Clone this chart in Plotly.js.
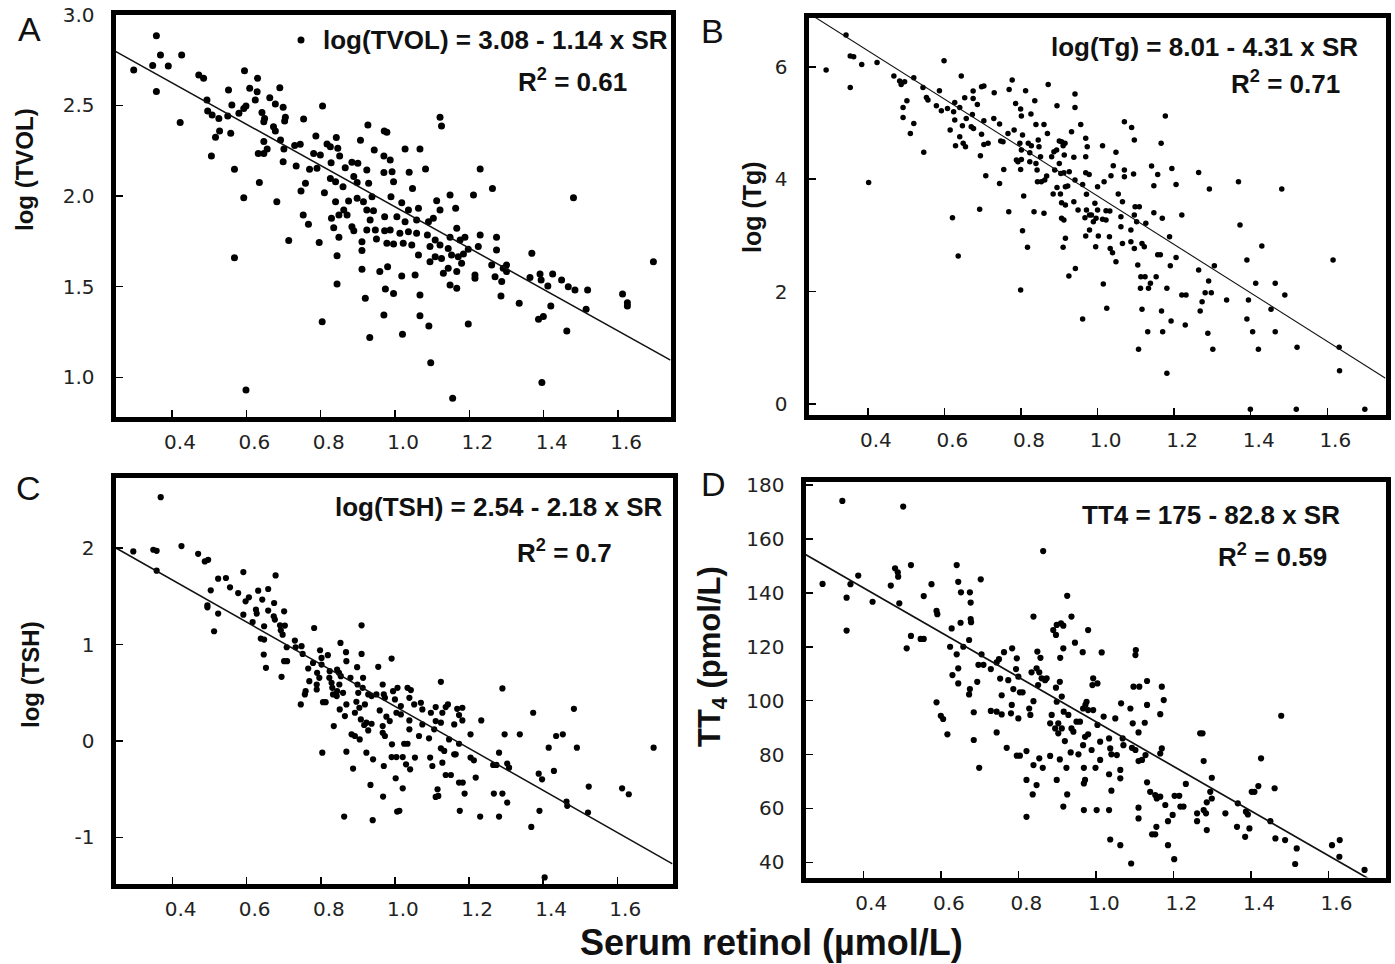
<!DOCTYPE html>
<html>
<head>
<meta charset="utf-8">
<script src="https://cdn.plot.ly/plotly-3.0.1.min.js"></script>
<style>html,body{margin:0;padding:0;background:#fff;}#chart{width:1395px;height:964px;}</style>
</head>
<body>
<div id="chart"></div>
<script>
// ---------- Data ----------
const srA = [0.358,0.297,0.348,0.369,0.39,0.426,0.358,0.422,0.472,0.485,
0.494,0.496,0.508,0.526,0.517,0.528,0.506,0.552,0.561,0.55,
0.558,0.568,0.595,0.58,0.593,0.599,0.609,0.629,0.63,0.624,
0.593,0.635,0.568,0.599,0.663,0.678,0.69,0.699,0.705,0.703,
0.642,0.649,0.647,0.673,0.678,0.647,0.632,0.647,0.656,0.692,
0.701,0.699,0.682,0.714,0.73,0.745,0.734,0.754,0.747,0.759,
0.753,0.767,0.787,0.781,0.77,0.79,0.799,0.805,0.81,0.796,
0.804,0.817,0.826,0.842,0.846,0.851,0.826,0.828,0.84,0.84,
0.829,0.835,0.849,0.849,0.844,0.844,0.862,0.86,0.866,0.871,
0.875,0.884,0.889,0.898,0.898,0.907,0.9,0.884,0.889,0.911,
0.911,0.911,0.92,0.932,0.927,0.924,0.929,0.938,0.924,0.915,
0.933,0.924,0.942,0.944,0.947,0.95,0.959,0.971,0.978,0.97,
0.97,0.972,0.972,0.98,0.974,0.97,0.978,0.987,0.992,0.996,
0.989,0.987,0.996,0.996,1.005,
1.121,1.125,1.027,1.067,1.038,1.082,1.229,1.262,1.211,1.148,
1.48,1.695,1.047,1.018,1.036,1.063,1.112,1.121,1.163,1.027,
1.058,1.09,1.103,1.013,1.036,1.058,1.087,1.108,1.121,
1.166,1.148,1.175,1.188,1.229,1.022,1.045,1.063,1.094,
1.094,1.108,1.125,1.143,1.152,1.17,1.179,1.197,1.184,1.166,
1.143,1.13,1.148,1.166,1.215,1.215,1.224,1.273,1.273,1.26,
1.269,1.287,1.291,1.3,1.3,1.285,1.054,1.018,1.067,
1.067,1.091,1.02,1.197,1.096,1.155,1.334,1.368,1.363,1.39,
1.393,1.411,1.424,1.448,1.466,1.484,1.518,1.419,1.386,1.399,
1.462,1.514,1.395,1.612,1.625,1.625];
const tvolA = [2.884,2.695,2.72,2.778,2.717,2.778,2.577,2.406,2.667,2.649,
2.529,2.469,2.447,2.428,2.324,2.358,2.221,2.585,2.502,2.441,
2.346,2.147,2.691,2.456,2.483,2.496,2.594,2.575,2.649,2.529,
1.991,2.075,1.66,0.93,2.542,2.507,2.597,2.489,2.434,2.414,
2.46,2.428,2.41,2.382,2.358,2.3,2.235,2.235,2.259,2.309,
2.259,2.189,1.969,1.754,2.278,2.285,2.165,2.425,2.028,2.07,
1.895,1.844,2.331,2.235,2.147,2.153,2.226,2.496,2.018,1.744,
1.307,2.287,2.272,2.322,2.263,2.221,2.097,2.184,2.079,1.969,
1.877,1.825,1.895,1.772,1.671,1.515,1.923,2.051,2.156,1.895,
1.972,2.186,2.107,2.074,1.987,2.307,2.18,1.831,1.809,1.748,
1.699,1.596,1.436,1.219,2.391,2.143,2.07,1.996,1.923,1.969,
1.868,1.813,1.919,2.254,1.813,1.763,1.583,2.358,2.351,2.221,
2.129,1.886,1.809,1.61,1.487,1.344,1.739,2.199,2.134,2.079,
1.996,1.813,1.463,1.735,1.886,
2.434,2.386,2.259,2.259,2.131,2.149,2.149,2.042,2.006,2.006,
1.991,1.638,2.042,1.963,1.923,1.932,1.974,1.923,1.932,1.858,
1.868,1.858,1.877,1.794,1.803,1.794,1.785,1.757,1.73,
1.822,1.772,1.757,1.772,1.785,1.739,1.73,1.675,1.721,
1.638,1.665,1.656,1.711,1.675,1.665,1.629,1.706,1.68,1.583,
1.601,1.574,1.509,1.491,1.564,1.546,1.721,1.772,1.702,1.619,
1.555,1.528,1.601,1.619,1.583,1.449,1.564,1.559,1.454,
1.34,1.283,1.237,1.294,1.081,0.884,1.408,1.684,1.551,1.57,
1.537,1.504,1.57,1.537,1.5,1.482,1.482,1.393,1.32,1.335,
1.256,1.375,0.971,1.46,1.412,1.393];

const srB = [0.343,0.291,0.354,0.363,0.384,0.354,0.424,0.402,0.468,0.483,
0.487,0.496,0.52,0.502,0.492,0.492,0.52,0.511,0.546,0.544,
0.553,0.557,0.587,0.579,0.592,0.599,0.608,0.615,0.624,0.627,
0.644,0.64,0.653,0.627,0.647,0.657,0.64,0.629,0.649,0.655,
0.621,0.636,0.675,0.675,0.686,0.673,0.67,0.676,0.697,0.703,
0.703,0.697,0.703,0.714,0.694,0.708,0.692,0.73,0.729,0.744,
0.747,0.753,0.755,0.744,0.768,0.769,0.777,0.766,0.782,0.786,
0.799,0.801,0.804,0.797,0.801,0.788,0.792,0.801,0.799,0.807,
0.804,0.817,0.799,0.812,0.826,0.819,0.823,0.827,0.823,0.836,
0.834,0.839,0.845,0.847,0.839,0.842,0.851,0.843,0.853,0.862,
0.867,0.86,0.86,0.869,0.871,0.88,0.886,0.893,0.894,0.888,
0.9,0.9,0.906,0.91,0.915,0.913,0.904,0.912,0.894,0.884,
0.903,0.916,0.922,0.906,0.916,0.906,0.912,0.916,0.91,0.925,
0.942,0.941,0.941,0.932,0.926,0.938,0.941,0.938,0.949,0.956,
0.961,0.961,0.969,0.973,0.969,0.969,0.971,0.978,0.967,0.971,
0.979,0.984,0.989,0.969,0.979,0.993,0.995,1.0,1.0,0.996,
1.002,
1.177,1.07,1.089,1.096,1.166,1.013,1.048,1.041,1.035,1.07,
1.07,1.094,1.141,1.157,1.147,1.194,1.205,1.264,1.292,1.368,
1.481,1.017,1.054,1.065,1.022,1.032,1.013,1.022,1.061,
1.098,1.109,1.096,1.102,1.126,1.147,1.169,1.22,1.061,1.087,
1.031,1.065,1.033,1.039,1.048,1.096,1.087,1.116,
1.122,1.157,1.164,1.188,1.205,1.19,1.105,1.113,1.124,1.153,
1.112,1.133,1.138,1.181,1.015,1.024,1.116,1.167,1.131,1.17,
1.107,1.181,1.192,1.229,1.22,1.231,1.268,1.273,1.281,1.297,
1.29,1.305,1.264,1.288,1.301,1.337,1.372,1.39,1.429,1.413,
1.464,1.489,1.394,1.453,1.39,1.405,1.464,1.42,1.521,1.615,
1.631,1.632,1.399,1.519,1.698];
const tgB = [6.563,5.941,6.19,6.178,6.041,5.632,6.077,3.943,5.834,5.745,
5.686,5.733,5.804,5.395,5.277,5.099,4.992,4.814,4.477,5.632,
5.455,5.407,5.573,5.306,5.218,6.107,5.259,4.874,5.2,5.366,
5.834,5.277,5.449,5.052,4.951,5.081,4.755,4.595,4.637,4.577,
3.315,2.633,5.567,5.437,5.33,5.152,4.933,4.903,5.644,5.656,
5.04,4.797,4.619,4.637,4.417,4.062,3.463,5.538,5.081,4.98,
4.678,4.666,4.174,3.925,3.421,5.597,5.763,4.814,4.874,5.348,
5.247,5.123,4.785,4.637,4.518,4.34,4.311,4.352,4.174,3.7,
3.084,2.787,2.028,5.573,5.158,4.637,4.47,4.595,4.311,5.395,
3.421,4.974,4.696,4.577,4.281,4.162,4.4,3.955,3.955,3.985,
4.056,3.392,4.974,4.814,5.686,4.4,4.489,4.518,5.306,4.162,
4.678,4.281,4.666,4.595,4.637,4.429,4.103,4.115,3.854,3.736,
3.736,3.866,3.878,3.582,3.54,3.303,3.273,2.947,2.787,2.277,
2.413,5.514,5.277,4.844,4.133,4.388,3.985,3.599,3.451,4.974,
3.907,1.513,4.726,4.577,4.4,4.115,3.73,4.085,3.315,3.451,
3.362,3.362,3.244,2.989,3.095,3.57,2.799,3.866,3.451,3.303,
2.989,
5.123,5.022,4.921,4.696,4.637,4.595,4.477,4.239,4.062,4.162,
4.044,4.091,4.234,4.085,3.884,4.192,3.907,4.121,3.825,3.955,
3.825,3.955,3.736,3.599,3.439,3.433,3.285,3.273,3.332,
3.51,3.51,3.362,3.244,3.214,3.404,3.303,3.362,3.155,3.095,
2.977,2.858,2.769,2.692,2.532,2.769,2.888,2.858,
2.799,2.657,2.657,2.977,2.609,2.461,2.473,2.265,2.265,2.265,
2.058,2.058,2.147,2.058,2.135,1.702,1.685,1.655,1.287,1.287,
0.973,0.547,1.477,1.406,1.939,1.939,1.655,1.821,1.981,1.981,
2.188,2.461,2.384,1.258,0.973,1.851,3.184,2.562,2.811,2.147,
2.147,1.939,1.851,1.685,1.513,1.287,1.287,0.973,1.009,2.562,
1.009,0.594,-0.094,-0.094,-0.094];

const srC = [0.368,0.294,0.348,0.357,0.357,0.424,0.469,0.487,0.496,0.523,
0.544,0.555,0.503,0.494,0.494,0.523,0.512,0.577,0.591,0.597,
0.606,0.591,0.625,0.627,0.631,0.616,0.658,0.642,0.658,0.678,
0.674,0.673,0.676,0.647,0.638,0.647,0.646,0.652,0.69,0.701,
0.692,0.697,0.703,0.701,0.709,0.694,0.708,0.73,0.732,0.748,
0.751,0.746,0.757,0.759,0.766,0.769,0.782,0.779,0.798,0.802,
0.79,0.802,0.796,0.789,0.789,0.806,0.813,0.804,0.819,0.824,
0.823,0.829,0.831,0.833,0.835,0.844,0.849,0.85,0.844,0.843,
0.853,0.854,0.86,0.851,0.869,0.865,0.868,0.869,0.88,0.869,
0.863,0.887,0.883,0.892,0.905,0.899,0.901,0.896,0.892,0.904,
0.91,0.91,0.898,0.914,0.913,0.919,0.908,0.917,0.923,0.928,
0.937,0.923,0.941,0.934,0.94,0.928,0.937,0.95,0.955,0.959,
0.967,0.97,0.973,0.977,0.967,0.967,0.973,0.991,0.995,1.0,
0.986,0.992,0.991,1.004,0.97,1.002,0.968,1.006,1.004,
1.124,1.007,1.016,1.034,1.043,1.039,1.052,1.07,1.074,1.097,
1.11,1.137,1.128,1.11,1.124,1.143,1.168,1.182,1.173,1.182,
1.16,1.016,1.039,1.074,1.106,1.039,1.065,1.025,1.034,1.092,
1.146,1.173,1.124,1.133,1.16,1.164,1.204,1.233,1.29,1.296,
1.337,1.373,1.483,1.453,1.435,1.415,1.491,1.698,1.281,1.204,
1.213,1.021,1.03,1.041,1.054,1.095,1.101,1.128,1.137,1.151,
1.265,1.274,1.303,1.308,1.388,1.397,1.429,1.021,1.115,1.11,
1.117,1.173,1.183,1.188,1.218,1.267,1.29,1.303,1.523,1.613,
1.631,1.463,1.465,1.521,1.012,1.175,1.23,1.281,1.39,1.368,
1.404];
const tshC = [2.528,1.966,1.983,1.972,1.766,2.021,1.941,1.862,1.879,1.683,
1.69,1.593,1.562,1.407,1.386,1.321,1.138,1.534,1.752,1.448,
1.49,1.31,1.362,1.321,1.559,1.234,1.576,1.466,1.352,1.717,
1.431,1.293,1.259,1.19,1.062,1.052,0.897,0.759,1.2,1.345,
1.148,1.103,1.197,0.828,0.828,0.666,0.972,1.041,0.972,0.983,
0.903,0.379,0.483,0.517,0.752,0.621,1.172,0.81,0.941,0.862,
0.707,0.793,0.655,0.586,0.534,0.403,0.403,-0.121,0.89,0.724,
0.655,0.603,0.552,0.483,0.155,0.741,0.707,0.586,0.517,0.466,
1.017,0.672,0.5,0.328,0.379,0.259,0.921,0.828,0.655,-0.11,
-0.783,-0.286,0.069,0.052,0.017,0.586,0.5,0.407,0.293,0.345,
0.903,1.2,0.766,0.655,0.552,0.379,0.224,0.166,0.19,0.11,
0.179,-0.121,-0.19,-0.455,-0.821,0.483,0.466,0.483,0.769,0.317,
0.586,0.483,0.448,0.252,0.155,0.086,0.052,0.855,0.517,0.431,
0.207,-0.034,-0.166,-0.166,-0.259,-0.386,-0.576,-0.731,0.293,
0.614,0.552,0.362,0.552,0.528,0.448,0.379,0.397,0.328,0.293,
0.352,0.352,0.293,0.207,0.19,0.379,0.334,0.345,0.269,0.214,
0.172,0.276,0.214,0.172,0.121,0.121,0.052,-0.028,-0.028,0.028,
0.017,-0.028,-0.076,-0.103,-0.138,-0.138,0.069,0.214,0.545,0.069,
0.069,0.293,0.334,0.069,0.052,-0.069,-0.069,-0.069,-0.121,-0.172,
-0.2,-0.166,-0.241,-0.293,-0.172,-0.172,-0.259,-0.224,-0.352,-0.352,
-0.248,-0.248,-0.234,-0.276,-0.338,-0.397,-0.31,-0.49,-0.5,-0.579,
-0.569,-0.431,-0.431,-0.545,-0.379,-0.545,-0.545,-0.638,-0.472,-0.49,
-0.552,-0.628,-0.672,-0.741,-0.724,-0.724,-0.783,-0.783,-0.724,-0.89,
-1.414];

const srD = [0.346,0.503,0.295,0.357,0.367,0.387,0.357,0.424,0.471,0.482,
0.489,0.49,0.493,0.523,0.523,0.512,0.548,0.556,0.556,0.576,
0.589,0.591,0.589,0.6,0.606,0.617,0.628,0.624,0.641,0.645,
0.652,0.675,0.677,0.651,0.677,0.678,0.673,0.658,0.641,0.645,
0.63,0.645,0.675,0.673,0.694,0.685,0.685,0.699,0.703,0.705,
0.697,0.71,0.729,0.744,0.75,0.729,0.744,0.757,0.744,0.757,
0.753,0.763,0.774,0.784,0.796,0.794,0.8,0.787,0.804,0.811,
0.783,0.781,0.8,0.77,0.796,0.804,0.821,0.839,0.834,0.849,
0.847,0.854,0.857,0.86,0.851,0.869,0.873,0.839,0.828,0.831,
0.864,0.839,0.854,0.863,0.882,0.821,0.847,0.837,0.821,0.89,
0.899,0.91,0.916,0.897,0.926,0.937,0.916,0.908,0.946,0.907,
0.897,0.912,0.899,0.886,0.882,0.895,0.903,0.912,0.903,0.917,
0.929,0.937,0.942,0.92,0.907,0.924,0.899,0.926,0.916,0.935,
0.95,0.959,0.966,0.973,0.967,0.976,0.98,0.972,0.98,0.967,
0.955,0.969,0.972,0.969,0.969,0.98,0.993,0.991,0.989,0.999,
1.002,0.993,1.004,1.004,
1.015,1.103,1.102,1.097,1.112,1.132,1.17,1.175,1.065,
1.089,1.132,1.166,1.02,1.05,1.095,1.126,1.11,1.034,
1.069,1.071,1.093,1.102,1.128,1.119,1.11,1.166,1.17,1.037,
1.011,1.04,1.054,1.011,1.034,1.063,1.063,1.04,1.132,1.14,
1.153,1.166,1.157,1.179,1.203,1.215,1.232,1.218,1.226,1.198,
1.186,1.11,1.11,1.156,1.145,1.153,1.034,1.037,1.063,
1.091,1.186,1.202,1.269,1.275,1.278,1.299,1.295,1.299,1.286,
1.278,1.284,1.261,1.261,1.286,1.334,1.366,1.387,1.392,1.364,
1.396,1.385,1.402,1.409,1.419,1.426,1.461,1.478,1.45,1.463,
1.488,1.518,1.514,1.609,1.629,1.628,1.693];
const tt4D = [174.1,172.0,143.3,138.2,143.2,146.4,126.0,136.7,142.7,149.1,
147.6,146.0,136.1,150.3,124.0,119.4,122.9,122.9,138.8,143.2,
133.3,132.1,99.4,94.4,93.2,87.5,126.8,120.0,150.3,144.1,
140.2,140.2,136.4,128.9,130.3,129.1,122.5,120.0,117.2,112.0,
109.5,106.4,104.3,102.3,107.0,95.7,85.4,75.1,145.0,117.2,
113.3,113.3,111.7,114.2,115.4,96.2,95.9,94.9,88.2,102.0,
108.2,118.0,107.6,119.4,115.7,111.7,108.9,104.3,103.1,103.1,
98.4,95.3,93.4,82.5,79.6,79.6,81.3,131.2,110.5,118.2,
112.0,110.5,115.9,108.3,105.8,107.6,108.3,99.8,97.1,94.7,
155.5,76.1,78.6,75.1,79.5,70.6,68.7,65.2,56.9,126.2,
128.1,128.7,127.8,124.4,138.9,131.2,119.4,115.9,121.5,107.0,
104.8,101.5,99.6,94.7,91.6,89.7,91.6,89.7,87.9,95.9,
94.7,89.7,88.5,85.0,78.2,75.1,70.6,65.2,60.7,80.8,
92.2,92.2,118.0,98.4,97.1,99.6,96.5,86.6,87.5,83.5,
80.1,75.1,70.6,69.3,59.4,126.2,108.3,105.8,81.7,75.1,
59.4,96.5,91.0,106.4,
117.9,118.8,116.9,105.2,105.2,107.3,105.2,100.2,99.0,
97.1,98.4,95.0,94.1,93.4,91.6,91.8,88.2,86.0,
86.0,83.5,82.5,81.7,79.8,78.0,77.6,80.4,82.3,82.3,
78.0,80.1,79.8,84.8,72.7,74.3,71.2,66.6,69.7,66.2,
65.0,64.4,63.7,61.3,64.7,64.7,69.1,60.7,60.7,57.6,
55.3,60.3,56.3,53.2,50.4,50.4,59.4,48.5,46.4,
39.6,46.4,41.2,87.9,87.9,77.6,71.4,66.2,63.7,62.3,
59.4,58.2,58.2,55.3,52.0,58.2,61.9,58.8,57.8,53.2,
52.6,49.5,66.2,66.2,68.3,78.6,67.5,94.4,55.3,48.9,
48.3,45.2,39.4,46.4,48.3,42.1,37.2];

// regression lines printed on the panels: y = intercept + slope * SR
const panelNames = ['A','B','C','D'];
const intercepts = [3.08, 8.01, 2.54, 175];
const slopes = [-1.14, -4.31, -2.18, -82.8];
const equations = ['log(TVOL) = 3.08 - 1.14 x SR', 'log(Tg) = 8.01 - 4.31 x SR',
                   'log(TSH) = 2.54 - 2.18 x SR', 'TT4 = 175 - 82.8 x SR'];
const r2Text = ['0.61', '0.71', '0.7', '0.59'];
const yTitles = ['log (TVOL)', 'log (Tg)', 'log (TSH)', 'TT<sub>4</sub> (pmol/L)'];
const xTitle = 'Serum retinol (µmol/L)';
const xTickVals = [0.4, 0.6, 0.8, 1.0, 1.2, 1.4, 1.6];
const xTickText = ['0.4', '0.6', '0.8', '1.0', '1.2', '1.4', '1.6'];
const yTickValsA = [1.0, 1.5, 2.0, 2.5, 3.0];
const yTickTextA = ['1.0', '1.5', '2.0', '2.5', '3.0'];
const yTickValsB = [0, 2, 4, 6];
const yTickTextB = ['0', '2', '4', '6'];
const yTickValsC = [-1, 0, 1, 2];
const yTickTextC = ['-1', '0', '1', '2'];
const yTickValsD = [40, 60, 80, 100, 120, 140, 160, 180];
const yTickTextD = ['40', '60', '80', '100', '120', '140', '160', '180'];

// ---------- Layout geometry ----------
const W = 1395, H = 964;
const xRanges = [[0.248, 1.741], [0.245, 1.752], [0.246, 1.749], [0.251, 1.747]];
const yRanges = [[0.784, 3.001], [-0.186, 6.876], [-1.477, 2.732], [34.4, 181.3]];
const boxes = [ // left, right, top, bottom in px
  [115.5, 670.5, 14.5, 416.5],
  [808.5, 1385.5, 17.5, 414.5],
  [115.5, 672.5, 477.5, 883.5],
  [805.5, 1385.5, 481.5, 877.5]
];
const markerSizes = [7, 5.5, 6.2, 6.2];
const lineWidths = [1.5, 1.1, 1.5, 1.7];
const xs = [srA, srB, srC, srD];
const ys = [tvolA, tgB, tshC, tt4D];
const yTickVals = [yTickValsA, yTickValsB, yTickValsC, yTickValsD];
const yTickText = [yTickTextA, yTickTextB, yTickTextC, yTickTextD];

const tickFont = {family: 'DejaVu Sans', size: 20, color: '#222'};
const data = [];
const layout = {
  width: W, height: H, margin: {l: 0, r: 0, t: 0, b: 0},
  paper_bgcolor: 'white', plot_bgcolor: 'white', showlegend: false,
  font: {family: 'Liberation Sans, Arial, sans-serif', color: '#111'},
  annotations: [], shapes: []
};

for (let i = 0; i < 4; i++) {
  const sfx = i === 0 ? '' : String(i + 1);
  const [l, r, t, b] = boxes[i];
  data.push({
    type: 'scatter', mode: 'markers', x: xs[i], y: ys[i],
    xaxis: 'x' + sfx, yaxis: 'y' + sfx,
    marker: {color: 'black', size: markerSizes[i]}, hoverinfo: 'x+y', cliponaxis: true
  });
  const xr = xRanges[i];
  data.push({
    type: 'scatter', mode: 'lines', x: [xr[0], xr[1]],
    y: [intercepts[i] + slopes[i] * xr[0], intercepts[i] + slopes[i] * xr[1]],
    xaxis: 'x' + sfx, yaxis: 'y' + sfx,
    line: {color: '#111', width: lineWidths[i]}, hoverinfo: 'skip'
  });
  const common = {
    showline: true, linewidth: 5, linecolor: 'black', mirror: true,
    ticks: 'inside', ticklen: 7, tickwidth: 1.5, tickcolor: 'black',
    showgrid: false, zeroline: false, tickfont: tickFont, fixedrange: true
  };
  layout['xaxis' + sfx] = Object.assign({}, common, {
    domain: [l / W, r / W], range: xRanges[i], anchor: 'y' + sfx,
    tickmode: 'array', tickvals: xTickVals, ticktext: xTickText,
    ticklabelshift: 8, ticklabelstandoff: 3
  });
  layout['yaxis' + sfx] = Object.assign({}, common, {
    domain: [1 - b / H, 1 - t / H], range: yRanges[i], anchor: 'x' + sfx,
    tickmode: 'array', tickvals: yTickVals[i], ticktext: yTickText[i],
    ticklabelstandoff: 12
  });
}

// equations and R^2 labels (pixel positions of right edge, vertical centre)
const eqPos = [[670, 40], [1360, 47], [664, 507], [1342, 515]];
const r2Pos = [[629, 80], [1342, 82], [614, 551], [1329, 555]];
const boldFont = {family: 'Liberation Sans, Arial, sans-serif', size: 26, color: '#111'};
for (let i = 0; i < 4; i++) {
  layout.annotations.push({
    xref: 'paper', yref: 'paper', x: eqPos[i][0] / W, y: 1 - eqPos[i][1] / H,
    xanchor: 'right', yanchor: 'middle', showarrow: false,
    text: '<b>' + equations[i] + '</b>', font: boldFont
  });
  layout.annotations.push({
    xref: 'paper', yref: 'paper', x: r2Pos[i][0] / W, y: 1 - r2Pos[i][1] / H,
    xanchor: 'right', yanchor: 'middle', showarrow: false,
    text: '<b>R<sup>2</sup> = ' + r2Text[i] + '</b>', font: boldFont
  });
}
// small dot key before panel A equation
layout.shapes.push({
  type: 'circle', xref: 'paper', yref: 'paper', xsizemode: 'pixel', ysizemode: 'pixel',
  xanchor: 301 / W, yanchor: 1 - 40 / H, x0: -3.5, x1: 3.5, y0: -3.5, y1: 3.5,
  fillcolor: 'black', line: {width: 0}
});

// y-axis titles (rotated)
const yTitlePos = [[24, 170, 24], [752, 207, 25], [30, 675, 24], [712, 657, 31]];
for (let i = 0; i < 4; i++) {
  layout.annotations.push({
    xref: 'paper', yref: 'paper', x: yTitlePos[i][0] / W, y: 1 - yTitlePos[i][1] / H,
    xanchor: 'center', yanchor: 'middle', showarrow: false, textangle: -90,
    text: '<b>' + yTitles[i] + '</b>',
    font: {family: 'Liberation Sans, Arial, sans-serif', size: yTitlePos[i][2], color: '#111'}
  });
}
// panel letters
const letterPos = [[29, 29], [712, 31], [28, 488], [713, 484]];
for (let i = 0; i < 4; i++) {
  layout.annotations.push({
    xref: 'paper', yref: 'paper', x: letterPos[i][0] / W, y: 1 - letterPos[i][1] / H,
    xanchor: 'center', yanchor: 'middle', showarrow: false,
    text: panelNames[i], font: {family: 'Liberation Sans, Arial, sans-serif', size: 34, color: '#111'}
  });
}
// shared x title
layout.annotations.push({
  xref: 'paper', yref: 'paper', x: 771 / W, y: 0,
  xanchor: 'center', yanchor: 'bottom', showarrow: false, borderpad: 0,
  text: '<b>' + xTitle + '</b>', font: {family: 'Liberation Sans, Arial, sans-serif', size: 36, color: '#111'}
});

Plotly.newPlot('chart', data, layout, {staticPlot: true, displayModeBar: false});
</script>
</body>
</html>
